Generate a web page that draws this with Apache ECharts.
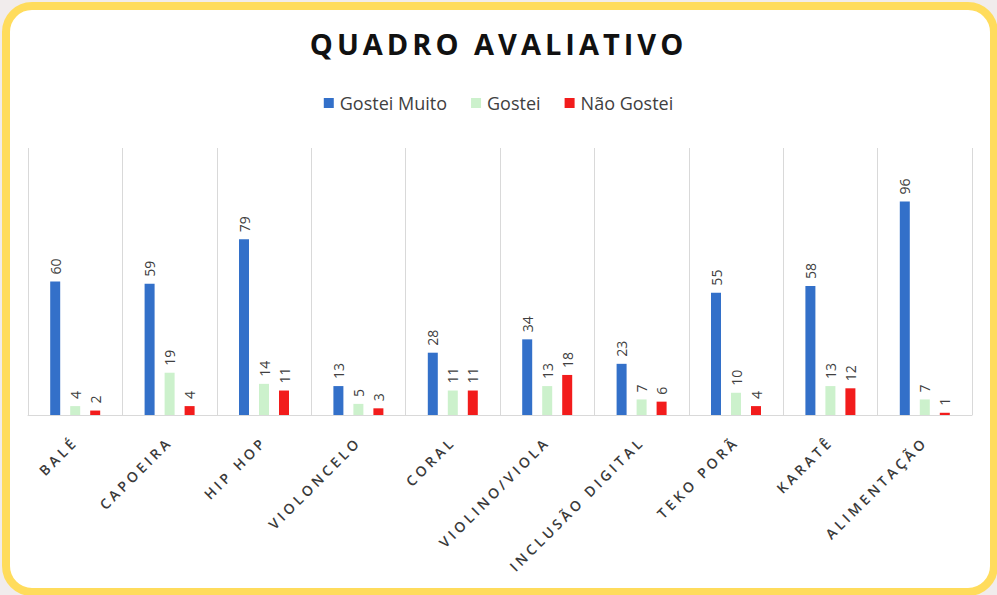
<!DOCTYPE html>
<html>
<head>
<meta charset="utf-8">
<title>Quadro Avaliativo</title>
<script src="https://cdn.jsdelivr.net/npm/echarts@6/dist/echarts.min.js"></script>
<style>
  html, body {
    margin: 0;
    padding: 0;
    width: 997px;
    height: 595px;
    overflow: hidden;
    background: #f1ecec;
  }
  .frame {
    position: absolute;
    left: 2px;
    top: 2px;
    width: 996px;
    height: 594px;
    box-sizing: border-box;
    border: 8px solid #ffdc5c;
    border-radius: 30px;
    background: #ffffff;
  }
  #chart {
    position: absolute;
    left: 0;
    top: 0;
    width: 997px;
    height: 595px;
  }
</style>
</head>
<body>
<div class="frame"></div>
<div id="chart"></div>
<script>
  const categories = ['BALÉ', 'CAPOEIRA', 'HIP HOP', 'VIOLONCELO', 'CORAL', 'VIOLINO/VIOLA', 'INCLUSÃO DIGITAL', 'TEKO PORÃ', 'KARATÊ', 'ALIMENTAÇÃO'];
  const gosteiMuito = [60, 59, 79, 13, 28, 34, 23, 55, 58, 96];
  const gostei = [4, 19, 14, 5, 11, 13, 7, 10, 13, 7];
  const naoGostei = [2, 4, 11, 3, 11, 18, 6, 4, 12, 1];

  const fontFamily = '"Open Sans", "Noto Sans", sans-serif';
  const textColor = '#404040';

  const valueLabel = {
    show: true,
    position: 'top',
    rotate: 90,
    align: 'left',
    verticalAlign: 'middle',
    distance: 7,
    fontSize: 14,
    color: textColor,
    fontFamily: fontFamily
  };

  function barSeries(name, data, color) {
    return {
      name: name,
      type: 'bar',
      data: data,
      barWidth: 10,
      barGap: '100%',
      itemStyle: { color: color },
      label: valueLabel
    };
  }

  const chart = echarts.init(document.getElementById('chart'), null, { renderer: 'svg' });

  const option = {
    animation: false,
    textStyle: { fontFamily: fontFamily },
    title: {
      text: 'QUADRO AVALIATIVO',
      left: 'center',
      top: 24,
      textStyle: {
        fontSize: 29,
        fontWeight: 'bold',
        color: '#111111',
        fontFamily: fontFamily
      }
    },
    legend: {
      top: 89,
      left: 'center',
      itemWidth: 10,
      itemHeight: 10,
      itemGap: 24,
      icon: 'rect',
      textStyle: {
        fontSize: 18,
        color: textColor,
        fontFamily: fontFamily,
        padding: [0, 0, 0, 1]
      },
      data: ['Gostei Muito', 'Gostei', 'Não Gostei']
    },
    grid: {
      left: 28,
      right: 25,
      top: 148,
      bottom: 180,
      containLabel: false
    },
    xAxis: {
      type: 'category',
      data: categories,
      axisTick: { show: false },
      axisLine: { lineStyle: { color: '#d9d9d9', width: 1 } },
      splitLine: { show: true, lineStyle: { color: '#d9d9d9', width: 1 } },
      axisLabel: {
        interval: 0,
        rotate: 45,
        margin: 24,
        fontSize: 14,
        fontWeight: 600,
        color: '#3a3a3a',
        fontFamily: fontFamily
      }
    },
    yAxis: {
      type: 'value',
      min: 0,
      max: 120,
      show: false,
      splitLine: { show: false }
    },
    series: [
      barSeries('Gostei Muito', gosteiMuito, '#3370c9'),
      barSeries('Gostei', gostei, '#ccf1cc'),
      barSeries('Não Gostei', naoGostei, '#f21c1c')
    ]
  };

  chart.setOption(option);

  // widen the tracking of the title and category names, like the original
  function spaceLetters() {
    document.querySelectorAll('#chart text').forEach(function (t) {
      const s = t.textContent;
      if (categories.indexOf(s) >= 0) {
        t.style.letterSpacing = '3.5px';
      } else if (s === option.title.text) {
        t.style.letterSpacing = '4px';
      }
    });
  }
  spaceLetters();
  chart.on('finished', spaceLetters);
</script>
</body>
</html>
